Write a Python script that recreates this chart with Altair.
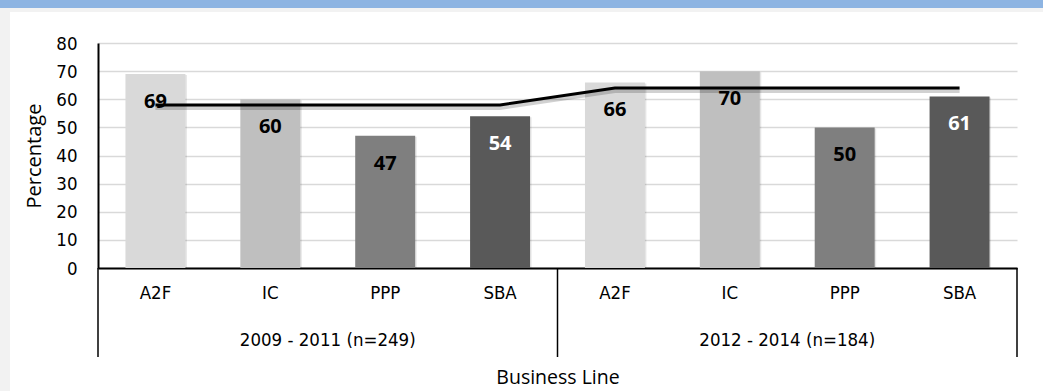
import altair as alt
import pandas as pd

# ---- data ----
periods = ["2009 - 2011 (n=249)"] * 4 + ["2012 - 2014 (n=184)"] * 4
business_lines = ["A2F", "IC", "PPP", "SBA", "A2F", "IC", "PPP", "SBA"]
percentages = [69, 60, 47, 54, 66, 70, 50, 61]
period_average = [58, 58, 58, 58, 64, 64, 64, 64]
y_ticks = [0, 10, 20, 30, 40, 50, 60, 70, 80]
group_labels = ["2009 - 2011 (n=249)", "2012 - 2014 (n=184)"]
group_centers = [2, 6]
group_edges = [0, 4, 8]
line_order = ["A2F", "IC", "PPP", "SBA"]
line_colors = ["#D9D9D9", "#BFBFBF", "#7F7F7F", "#595959"]

df = pd.DataFrame({"period": periods, "line": business_lines,
                   "pct": percentages, "avg": period_average})
df["key"] = df["period"] + "|" + df["line"]
keys = list(df["key"])

groups_df = pd.DataFrame({"label": group_labels, "center": group_centers})
edges_df = pd.DataFrame({"edge": group_edges})

W, H = 919, 225
NARROW = "Liberation Sans Narrow, Arial Narrow, DejaVu Sans Condensed, Roboto, sans-serif"
SANS = "Open Sans, Noto Sans, sans-serif"

x_scale = alt.Scale(domain=keys, paddingInner=0.478, paddingOuter=0.239)
y_scale = alt.Scale(domain=[0, 80], nice=False)

x_axis = alt.Axis(
    title="Business Line", labelExpr="split(datum.label, '|')[1]", labelAngle=0,
    ticks=False, domainColor="black", domainWidth=2, labelFont=NARROW,
    labelFontSize=18.5, labelColor="#000000", labelPadding=15, titleFont=SANS,
    titleFontSize=19.5, titleFontWeight="normal", titleColor="#000000",
    titleY=115, titleBaseline="alphabetic", grid=False)
y_axis = alt.Axis(
    title="Percentage", values=y_ticks, tickCount=9, ticks=False, labelPadding=21,
    domainColor="black", domainWidth=2, labelFont=NARROW, labelFontSize=18.5,
    labelColor="#000000", titleFont=SANS, titleFontSize=20, labelOverlap=False,
    titleFontWeight="normal", titleColor="#000000", titleX=-58,
    titleBaseline="alphabetic", gridColor="#D9D9D9", gridWidth=1.5)

X = alt.X("key:N", sort=keys, scale=x_scale, axis=x_axis)

base = alt.Chart(df)

bar_shadow = base.mark_bar(color="#000000", opacity=0.10, xOffset=1.5, yOffset=1).encode(
    x=X, y=alt.Y("pct:Q", scale=y_scale, axis=y_axis),
)

bars = base.mark_bar().encode(
    x=X,
    y=alt.Y("pct:Q", scale=y_scale, axis=y_axis),
    color=alt.Color("line:N", scale=alt.Scale(domain=line_order, range=line_colors), legend=None),
)

line_shadow = base.mark_line(color="#000000", opacity=0.18, strokeWidth=4, yOffset=3).encode(
    x=X, y=alt.Y("avg:Q", scale=y_scale, axis=y_axis),
)
avg_line = base.mark_line(color="#000000", strokeWidth=3).encode(
    x=X, y=alt.Y("avg:Q", scale=y_scale, axis=y_axis),
)

labels = base.mark_text(dy=28, font=SANS, fontSize=20, fontWeight="bold", baseline="middle").encode(
    x=X,
    y=alt.Y("pct:Q", scale=y_scale, axis=y_axis),
    text=alt.Text("pct:Q"),
    color=alt.condition(alt.datum.line == "SBA", alt.value("#FFFFFF"), alt.value("#000000")),
)

one = alt.Data(values=[{}])
gray_left = alt.Chart(one).mark_rect(color="#F2F2F2").encode(
    x=alt.value(-98), x2=alt.value(-88), y=alt.value(-43), y2=alt.value(348))
gray_top = alt.Chart(one).mark_rect(color="#F2F2F2").encode(
    x=alt.value(-98), x2=alt.value(945), y=alt.value(-36), y2=alt.value(-31))
blue_top = alt.Chart(one).mark_rect(color="#8DB4E2").encode(
    x=alt.value(-98), x2=alt.value(945), y=alt.value(-43), y2=alt.value(-35))

main = alt.layer(gray_left, gray_top, blue_top, bar_shadow, bars, line_shadow, avg_line, labels)

q_scale = alt.Scale(domain=[0, 8], nice=False, zero=False)
group_text = alt.Chart(groups_df).mark_text(
    font=NARROW, fontSize=18.5, baseline="alphabetic", color="#000000").encode(
    x=alt.X("center:Q", scale=q_scale, axis=None),
    y=alt.value(303),
    text="label:N",
)
separators = alt.Chart(edges_df).mark_rule(color="#000000", strokeWidth=1.5).encode(
    x=alt.X("edge:Q", scale=q_scale, axis=None),
    y=alt.value(225), y2=alt.value(314),
)
groups = alt.layer(separators, group_text)

chart = alt.layer(main, groups).resolve_scale(x="independent").properties(
    width=W, height=H,
    autosize=alt.AutoSizeParams(type="none"),
    padding={"left": 98, "top": 43, "right": 26, "bottom": 123},
    background="#FFFFFF",
).configure_view(strokeWidth=0)

chart.save("out.html", embed_options={"renderer": "svg", "actions": False})
